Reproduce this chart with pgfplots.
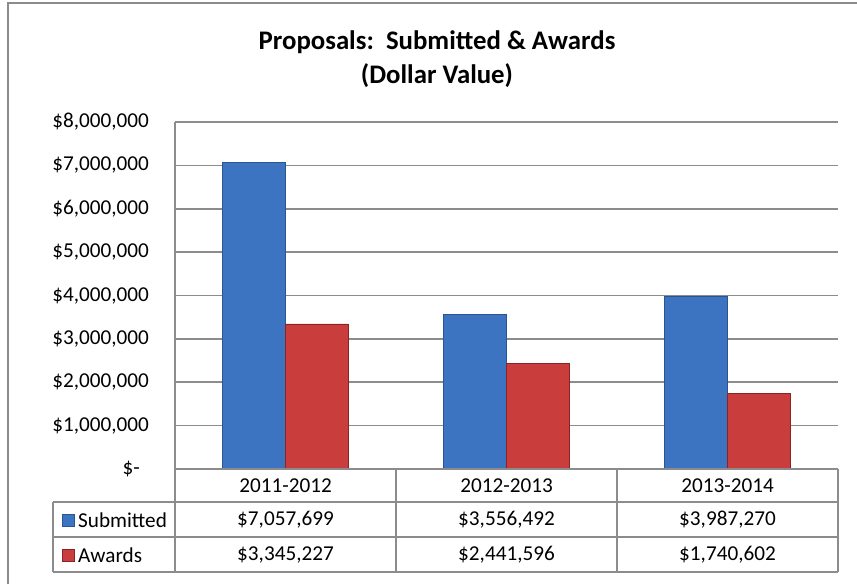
\documentclass[border=0pt]{standalone}
\usepackage{fontspec}
\setmainfont{Carlito}
\usepackage{pgfplots}
\pgfplotsset{compat=1.18}
\definecolor{subm}{HTML}{3C74C2}
\definecolor{subme}{HTML}{2A5590}
\definecolor{awd}{HTML}{C93D3C}
\definecolor{awde}{HTML}{8A2424}
\definecolor{gridc}{HTML}{8C8C8C}
\newcommand{\lbl}{\fontsize{21.2}{25}\selectfont}
\begin{document}
\begin{tikzpicture}[x=1pt,y=1pt]
\useasboundingbox (0,0) rectangle (857,-584);
\draw[gridc, line width=1.6pt] (8,-584) -- (8,-3) -- (857,-3);
\node[font=\fontsize{26.8}{31}\selectfont\bfseries] at (437,-42) {Proposals:\ \ Submitted \& Awards};
\node[font=\fontsize{26.8}{31}\selectfont\bfseries] at (437,-76) {(Dollar Value)};
\begin{axis}[
  at={(175pt,-469pt)}, anchor=south west,
  scale only axis, width=663pt, height=347pt,
  xmin=-0.5, xmax=2.5, ymin=0, ymax=8000000,
  axis x line=none, axis y line*=left,
  y axis line style={gridc, line width=1.6pt},
  ymajorgrids, grid style={gridc, line width=1.6pt},
  scaled y ticks=false,
  ytick={0,1000000,2000000,3000000,4000000,5000000,6000000,7000000,8000000},
  yticklabels={{\$-\kern9pt\null},{\$1,000,000},{\$2,000,000},{\$3,000,000},{\$4,000,000},{\$5,000,000},{\$6,000,000},{\$7,000,000},{\$8,000,000}},
  ytick style={draw=none},
  yticklabel style={font=\lbl, anchor=east, inner sep=0pt, xshift=-26pt},
  xtick=\empty,
  ybar=0pt, bar width=63pt,
  clip=false,
]
\addplot[fill=subm, draw=subme, line width=0.8pt] coordinates {(0,7057699) (1,3556492) (2,3987270)};
\addplot[fill=awd, draw=awde, line width=0.8pt] coordinates {(0,3345227) (1,2441596) (2,1740602)};
\end{axis}
% data table
\draw[gridc, line width=1.6pt] (175,-469) -- (838,-469);
\draw[gridc, line width=1.6pt] (53,-502) -- (838,-502);
\draw[gridc, line width=1.6pt] (53,-537) -- (838,-537);
\draw[gridc, line width=1.6pt] (53,-572) -- (838,-572);
\draw[gridc, line width=1.6pt] (53,-502) -- (53,-572);
\foreach \x in {175,396,617,838} \draw[gridc, line width=1.6pt] (\x,-469) -- (\x,-572);
\node[font=\lbl] at (285.5,-486) {2011-2012};
\node[font=\lbl] at (506.5,-486) {2012-2013};
\node[font=\lbl] at (727.5,-486) {2013-2014};
\node[font=\lbl] at (285.5,-520) {\$7,057,699};
\node[font=\lbl] at (506.5,-520) {\$3,556,492};
\node[font=\lbl] at (727.5,-520) {\$3,987,270};
\node[font=\lbl] at (285.5,-555) {\$3,345,227};
\node[font=\lbl] at (506.5,-555) {\$2,441,596};
\node[font=\lbl] at (727.5,-555) {\$1,740,602};
\fill[subm, draw=subme] (62,-514) rectangle (74,-526);
\fill[awd, draw=awde] (62,-549) rectangle (74,-561);
\node[font=\lbl, anchor=west, inner sep=0pt] at (78,-520) {Submitted};
\node[font=\lbl, anchor=west, inner sep=0pt] at (78,-555) {Awards};
\end{tikzpicture}
\end{document}
